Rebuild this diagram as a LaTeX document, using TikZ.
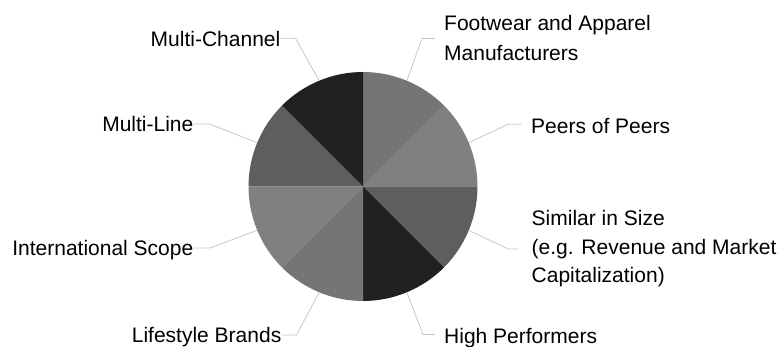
\documentclass[tikz,border=0pt]{standalone}
\usepackage{fontspec}
\setmainfont{Liberation Sans}
\usetikzlibrary{calc}
\begin{document}
\begin{tikzpicture}[x=1pt,y=1pt,
  lbl/.style={inner sep=0pt, font=\fontsize{21}{30}\selectfont, text=black},
  leader/.style={draw=black!22, line width=0.8pt},
  slicea/.style={fill=black!54},
  sliceb/.style={fill=black!50},
  slicec/.style={fill=black!63},
  sliced/.style={fill=black!87}]
\useasboundingbox (0,0) rectangle (781,347);
\coordinate (c) at (363,160.5);
% pie slices
\fill[slicea] (c) -- ++(45:114.5pt) arc[start angle=45, end angle=90, radius=114.5pt] -- cycle;
\fill[sliceb] (c) -- ++(0:114.5pt) arc[start angle=0, end angle=45, radius=114.5pt] -- cycle;
\fill[slicec] (c) -- ++(-45:114.5pt) arc[start angle=-45, end angle=0, radius=114.5pt] -- cycle;
\fill[sliced] (c) -- ++(-90:114.5pt) arc[start angle=-90, end angle=-45, radius=114.5pt] -- cycle;
\fill[slicea] (c) -- ++(-135:114.5pt) arc[start angle=-135, end angle=-90, radius=114.5pt] -- cycle;
\fill[sliceb] (c) -- ++(180:114.5pt) arc[start angle=180, end angle=225, radius=114.5pt] -- cycle;
\fill[slicec] (c) -- ++(135:114.5pt) arc[start angle=135, end angle=180, radius=114.5pt] -- cycle;
\fill[sliced] (c) -- ++(90:114.5pt) arc[start angle=90, end angle=135, radius=114.5pt] -- cycle;
% edge points
\coordinate (efw) at ($(c)+(67.5:114.5pt)$);
\coordinate (epp) at ($(c)+(22.5:114.5pt)$);
\coordinate (ess) at ($(c)+(-22.5:114.5pt)$);
\coordinate (ehp) at ($(c)+(-67.5:114.5pt)$);
\coordinate (elb) at ($(c)+(-112.5:114.5pt)$);
\coordinate (eis) at ($(c)+(-157.5:114.5pt)$);
\coordinate (eml) at ($(c)+(157.5:114.5pt)$);
\coordinate (emc) at ($(c)+(112.5:114.5pt)$);
% labels
\node[lbl, anchor=base east] (mc) at (280.5,300.7) {Multi-Channel};
\node[lbl, anchor=base east] (ml) at (193.5,215) {Multi-Line};
\node[lbl, anchor=base east] (is) at (193.5,91) {International Scope};
\node[lbl, anchor=base east] (lb) at (281.5,4) {Lifestyle Brands};
\node[lbl, anchor=north west, align=left] (fw) at (444,331.5) {Footwear and Apparel\\Manufacturers};
\node[lbl, anchor=base west] (pp) at (531,213.7) {Peers of Peers};
\node[lbl, anchor=north west, align=left, font=\fontsize{21}{28.5}\selectfont] (ss) at (531.5,136.5) {Similar in Size\\(e.g. Revenue and Market\\Capitalization)};
\node[lbl, anchor=base west] (hp) at (444,3) {High Performers};
% leaders
\draw[leader] (emc) -- ([xshift=15pt,yshift=8pt]mc.base east) -- ([yshift=8pt]mc.base east);
\draw[leader] (eml) -- ([xshift=16pt,yshift=8pt]ml.base east) -- ([yshift=8pt]ml.base east);
\draw[leader] (eis) -- ([xshift=16.5pt,yshift=8pt]is.base east) -- ([yshift=8pt]is.base east);
\draw[leader] (elb) -- ([xshift=15pt,yshift=8pt]lb.base east) -- ([yshift=8pt]lb.base east);
\draw[leader] (efw) -- ([xshift=-22pt]fw.west) -- ([xshift=-9pt]fw.west);
\draw[leader] (epp) -- ([xshift=-23pt,yshift=9pt]pp.base west) -- ([xshift=-9.5pt,yshift=9pt]pp.base west);
\draw[leader] (ess) -- ([xshift=-23.5pt]ss.west) -- ([xshift=-13.5pt]ss.west);
\draw[leader] (ehp) -- ([xshift=-21pt,yshift=9.5pt]hp.base west) -- ([xshift=-9pt,yshift=9.5pt]hp.base west);
\end{tikzpicture}
\end{document}
